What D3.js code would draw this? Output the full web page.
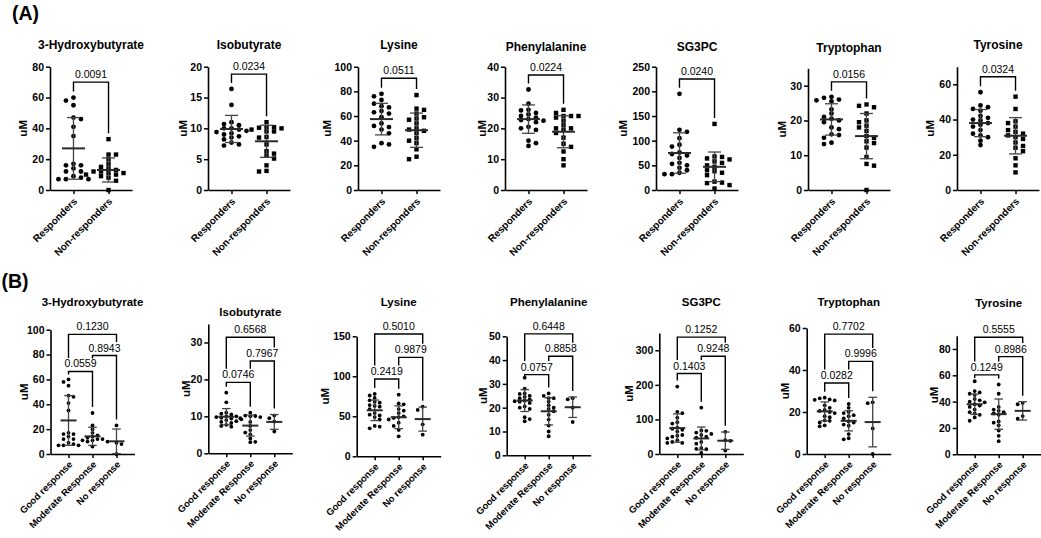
<!DOCTYPE html>
<html><head><meta charset="utf-8">
<script src="https://cdn.jsdelivr.net/npm/d3@7"></script>
<style>
body{margin:0;background:#fff;}
svg text{font-family:Arial,"Liberation Sans",Helvetica,sans-serif;}
</style></head><body>
<svg id="chart" width="1041" height="538"></svg>
<script>
// ---------------- DATA ----------------
const metabolites = ["3-Hydroxybutyrate","Isobutyrate","Lysine","Phenylalanine","SG3PC","Tryptophan","Tyrosine"];
const groupsA = ["Responders","Non-responders"];
const groupsB = ["Good response","Moderate Response","No response"];

// individual values (uM); Responders == Good response, Non-responders == Moderate + No response
const goodValues = [
  [60,58,55,47,46,41,35,17,16,16,14,12,12,9,8,7,7,7],
  [16.4,13.8,11,10.7,10.5,10,10,9.8,9.6,9.4,9.2,9,8.7,8.5,8.2,7.7,7.4,7.2],
  [78,76,73,70,68,67,64,63,62,59,54,52,51,49,46,38,37,35],
  [32.6,28,26,25.8,25,24.5,24,23.5,23,22.7,22.5,22,20.5,20,19.5,16,15.2,14.3],
  [195,122,118,105,92,88,76,73,70,65,55,53,50,45,40,35,32,32],
  [26.8,26.5,26,25.8,25.5,23.2,22,21,20.5,20,19.5,18,17.5,16,15.8,15,13.6,13.2],
  [55.5,48,47,46,45,42,41,40,39.5,38,37,36,34,32,31,30,28,25.5]
];
const moderateValues = [
  [33,23,20,17,15,14,13,12,12,11,11,10,10,6],
  [11,10.2,10.1,10,9.8,9.5,8.5,7.4,6.3,5.6,5.1,4,3.1,3.0],
  [77,66,65,59,57,54,50,49,48,46,42,38,33,25],
  [26,25,24,24,22.5,21,20,19.5,18.5,17,15,12.5,10,8],
  [134,68,67,62,58,55,50,47,35,30,17,15,14,3],
  [23.8,22,20,19.5,18.5,18,17,15.5,15,14,13.5,9.5,7.5,7],
  [53,46,36,34,33,32,31,30,25,24,22,18,14,10]
];
const noValues = [
  [23,9,8,0],
  [10.2,9.5,8.6,5.9],
  [62,58,40,27],
  [24,23.5,20,14],
  [64,40,38,10],
  [24.6,24.2,12.2,0],
  [39,38,29,27]
];
// mean and SD as plotted
const goodMean = [27,9.9,57.5,23,75,20.3,38];
const goodSD   = [20,2.2,12.8,4.6,41,4.5,7.7];
const nonRespMean = [13,7.9,48.5,18.9,47,15.5,30.8];
const nonRespSD   = [7.8,2.6,13.9,5.2,30,6.5,10.3];
const moderateMean = [14.2,7.5,48.8,18.5,45,15.8,30.5];
const moderateSD   = [7.3,2.85,14.2,5.7,33,4.8,11.5];
const noMean = [10.2,8.5,46.5,20.2,38.5,15.2,33];
const noSD   = [9.9,2.0,15,4.3,25,11.8,7];

// p-values
const pA = ["0.0091","0.0234","0.0511","0.0224","0.0240","0.0156","0.0324"];
const pGoodMod = ["0.0559","0.0746","0.2419","0.0757","0.1403","0.0282","0.1249"];
const pModNo   = ["0.8943","0.7967","0.9879","0.8858","0.9248","0.9996","0.8986"];
const pGoodNo  = ["0.1230","0.6568","0.5010","0.6448","0.1252","0.7702","0.5555"];
// bracket heights (data units)
const bracketA = [70,18.8,90.6,37.3,225,31.1,64.3];
const bracketGoodMod = [66.4,19.2,96.6,33.9,232.8,33.8,60.3];
const bracketModNo   = [79.2,25.0,123.7,41.6,282.7,44.1,74.2];
const bracketGoodNo  = [96.2,31.4,152.9,51,338,57.1,88.9];

// axes
const yMaxA = [80,20,100,40,250,35,70];
const yMaxB = [100,35,150,50,350,60,90];
const ticksA = [[0,20,40,60,80],[0,5,10,15,20],[0,20,40,60,80,100],[0,10,20,30,40],[0,50,100,150,200,250],[0,10,20,30],[0,20,40,60]];
const ticksB = [[0,20,40,60,80,100],[0,10,20,30],[0,50,100,150],[0,10,20,30,40,50],[0,100,200,300],[0,20,40,60],[0,20,40,60,80]];

// ---------------- LAYOUT ----------------
const layoutA = {
  axisX:[50,208,358,505,656,808,957], y0:[190,190,190,190,190,190,190],
  yTop:[66.7,66.7,66.7,66.7,66.7,68.3,66.7], width:82, pad:0.67,
  titleY:[45,45,45,46.5,46.5,48,45], ylabDX:[-27,-25,-31,-23,-33,-26,-27],
  titleSize:12, labelSize:10, labelShift:[4,12], r:2.4, sq:4.4, sx:7.5, sy:4, meanHW:11.5, capHW:6.5
};
const layoutB = {
  axisX:[50.5,208.3,356.7,506.7,659.3,806.7,956.7], y0:[454,453.3,456.3,455.3,454,454,454.3],
  yTop:[329.7,324,336.3,336.3,333,328,335.8], width:84, pad:0.75,
  titleY:[302,311.7,301.7,301.7,301.7,301.7,303.3], ylabDX:[-26.5,-22,-31.7,-23.4,-30,-22,-23],
  titleSize:11.5, labelSize:9.5, labelShift:[4,11], r:1.9, sx:5, sy:3.5, meanHW:8, capHW:4.3
};

const svg = d3.select("#chart");
svg.append("rect").attr("width",1041).attr("height",538).attr("fill","#fff");
const FONT = 'Arial, "Liberation Sans", sans-serif';

svg.append("text").attr("x",12).attr("y",20).attr("font-size",19.5).attr("font-weight","bold").attr("font-family",FONT).text("(A)");
svg.append("text").attr("x",1.5).attr("y",288).attr("font-size",19.5).attr("font-weight","bold").attr("font-family",FONT).text("(B)");

function swarm(values, y, cx, sx, sy){
  const pts = values.map(v=>({v, py:y(v)})).sort((a,b)=>a.py-b.py);
  const placed=[];
  pts.forEach((p,i)=>{
    const cands=[0];
    for(let k=1;k<30;k++){ const o=k*sx/2; if(i%2) cands.push(-o,o); else cands.push(o,-o); }
    for(const c of cands){
      if(placed.every(q=>Math.abs(q.dx-c)>=sx-0.01 || Math.abs(q.py-p.py)>=sy)){ p.dx=c; break; }
    }
    placed.push(p);
  });
  return pts.map(p=>({v:p.v, px:cx+p.dx, py:p.py}));
}

function drawPanel(i, L, groups, sets, means, sds, yMax, ticks, brackets, markers){
  const ax=L.axisX[i], y0=L.y0[i], yTop=L.yTop[i], w=L.width;
  const g = svg.append("g");
  const y = d3.scaleLinear().domain([0,yMax]).range([y0,yTop]);
  const x = d3.scalePoint().domain(groups).range([ax,ax+w]).padding(L.pad);

  // title
  g.append("text").attr("x",ax+w/2).attr("y",L.titleY[i]).attr("dy","0.36em")
    .attr("text-anchor","middle").attr("font-size",L.titleSize).attr("font-weight","bold")
    .attr("font-family",FONT).text(metabolites[i]);

  // y axis
  const ya = g.append("g").attr("transform",`translate(${ax},0)`)
    .call(d3.axisLeft(y).tickValues(ticks).tickSize(4).tickSizeOuter(0).tickPadding(2).tickFormat(d3.format("d")));
  ya.select(".domain").attr("stroke","#000").attr("stroke-width",1.6);
  ya.selectAll(".tick line").attr("stroke","#000").attr("stroke-width",1.5);
  ya.selectAll(".tick text").attr("font-size",10.5).attr("font-weight","bold").attr("font-family",FONT).attr("fill","#000");

  // x axis
  const xa = g.append("g").attr("transform",`translate(0,${y0})`)
    .call(d3.axisBottom(x).tickSize(4).tickSizeOuter(0));
  xa.select(".domain").attr("stroke","#000").attr("stroke-width",1.6);
  xa.selectAll(".tick line").attr("stroke","#000").attr("stroke-width",1.5);
  xa.selectAll(".tick text").attr("y",0).attr("dy",0)
    .attr("transform",`translate(${L.labelShift[0]},${L.labelShift[1]}) rotate(-45)`).attr("text-anchor","end")
    .attr("font-size",L.labelSize).attr("font-weight","bold").attr("font-family",FONT).attr("fill","#000");

  // y label
  g.append("text").attr("transform",`translate(${ax+L.ylabDX[i]},${(y0+yTop)/2}) rotate(-90)`)
    .attr("text-anchor","middle").attr("dy","0.36em").attr("font-size",11.5).attr("font-weight","bold")
    .attr("font-family",FONT).text("uM");

  // points
  const tops = {};
  groups.forEach((gr,k)=>{
    const cx = x(gr);
    const pts = swarm(sets[k], y, cx, L.sx, L.sy);
    if(markers[k]==="square"){
      g.selectAll(null).data(pts).enter().append("rect")
        .attr("x",d=>d.px-L.sq/2).attr("y",d=>d.py-L.sq/2).attr("width",L.sq).attr("height",L.sq).attr("fill","#000");
    } else {
      g.selectAll(null).data(pts).enter().append("circle")
        .attr("cx",d=>d.px).attr("cy",d=>d.py).attr("r",L.r).attr("fill","#000");
    }
    // mean & SD
    const m=means[k], s=sds[k];
    const lo=Math.max(0,m-s), hi=m+s;
    const eb = g.append("g").attr("stroke","#444").attr("fill","none");
    eb.append("line").attr("x1",cx).attr("x2",cx).attr("y1",y(lo)).attr("y2",y(hi)).attr("stroke-width",1.3);
    eb.append("line").attr("x1",cx-L.capHW).attr("x2",cx+L.capHW).attr("y1",y(hi)).attr("y2",y(hi)).attr("stroke-width",1.3);
    eb.append("line").attr("x1",cx-L.capHW).attr("x2",cx+L.capHW).attr("y1",y(lo)).attr("y2",y(lo)).attr("stroke-width",1.3);
    eb.append("line").attr("x1",cx-L.meanHW).attr("x2",cx+L.meanHW).attr("y1",y(m)).attr("y2",y(m)).attr("stroke","#2a2a2a").attr("stroke-width",2);
    tops[gr] = Math.min(y(d3.max(sets[k])), y(hi));
  });

  // brackets
  const bs = brackets.map(b=>({x1:x(b.a), x2:x(b.b), a:b.a, b:b.b, Y:y(b.level), label:b.label}));
  const TW = 31, TXT = 11.5;
  bs.forEach(b=>{
    function legEnd(px, grp){
      let c = tops[grp]-6;
      bs.forEach(o=>{
        if(o===b || o.Y<=b.Y) return;
        if(px>=o.x1-0.5 && px<=o.x2+0.5) c=Math.min(c,o.Y-3);
        const mid=(o.x1+o.x2)/2;
        if(px>=mid-TW/2-2 && px<=mid+TW/2+2) c=Math.min(c,o.Y-TXT-2);
      });
      return Math.max(c,b.Y+3);
    }
    const l=legEnd(b.x1,b.a), r=legEnd(b.x2,b.b);
    g.append("path").attr("d",`M${b.x1},${l}V${b.Y}H${b.x2}V${r}`)
      .attr("fill","none").attr("stroke","#000").attr("stroke-width",1.4);
    g.append("text").attr("x",(b.x1+b.x2)/2).attr("y",b.Y-4).attr("text-anchor","middle")
      .attr("font-size",10.5).attr("font-family",FONT).text(b.label);
  });
}

for(let i=0;i<7;i++){
  const nonResp = moderateValues[i].concat(noValues[i]);
  drawPanel(i, layoutA, groupsA, [goodValues[i], nonResp], [goodMean[i], nonRespMean[i]], [goodSD[i], nonRespSD[i]],
    yMaxA[i], ticksA[i], [{a:groupsA[0], b:groupsA[1], level:bracketA[i], label:pA[i]}], ["circle","square"]);
  drawPanel(i, layoutB, groupsB, [goodValues[i], moderateValues[i], noValues[i]],
    [goodMean[i], moderateMean[i], noMean[i]], [goodSD[i], moderateSD[i], noSD[i]],
    yMaxB[i], ticksB[i], [
      {a:groupsB[0], b:groupsB[1], level:bracketGoodMod[i], label:pGoodMod[i]},
      {a:groupsB[1], b:groupsB[2], level:bracketModNo[i], label:pModNo[i]},
      {a:groupsB[0], b:groupsB[2], level:bracketGoodNo[i], label:pGoodNo[i]}
    ], ["circle","circle","circle"]);
}
</script>
</body></html>
